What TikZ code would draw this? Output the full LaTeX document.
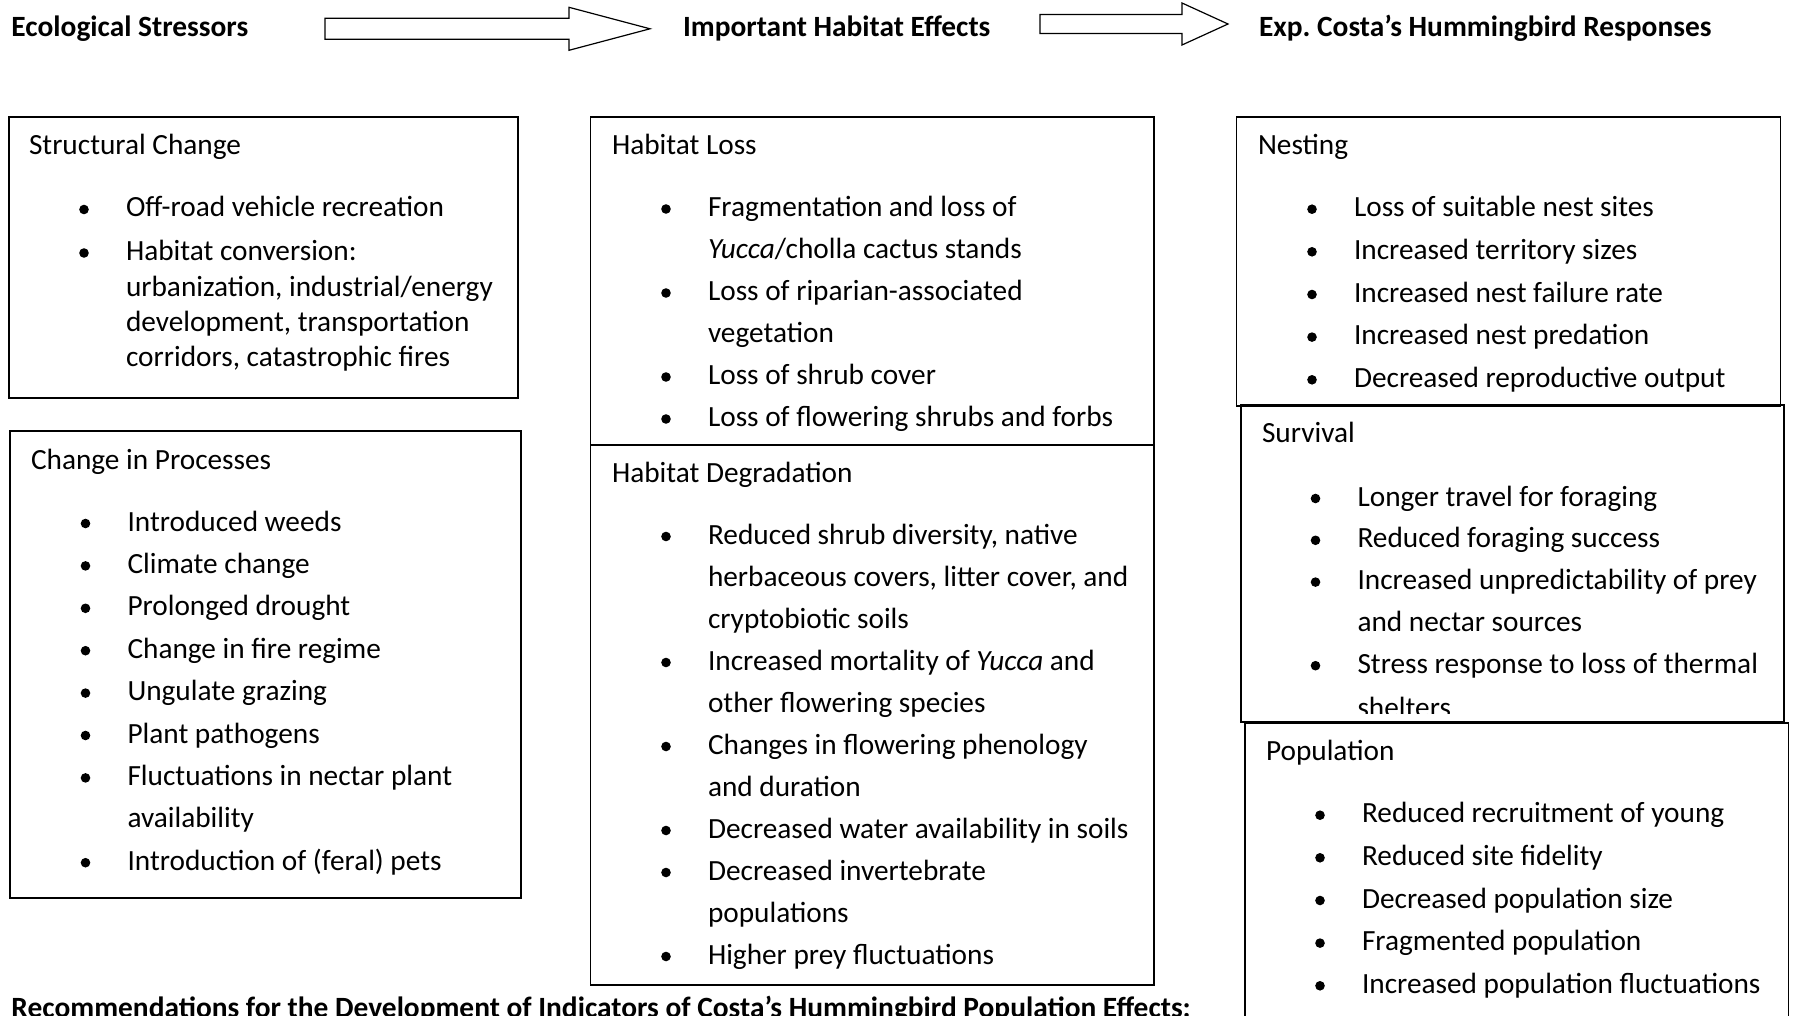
\documentclass[tikz,border=0pt]{standalone}
\usepackage{fontspec}
\setmainfont{Carlito}
\usepackage{tikz}
\usetikzlibrary{calc}
\frenchspacing

\tikzset{
  every node/.style={inner sep=0pt, outer sep=0pt},
  panel/.style={draw, line width=1.8pt},
  bigarrow/.style={draw, line width=1.2pt, line join=miter},
  head/.style={anchor=base west, font=\fontsize{29.4}{35}\selectfont\bfseries},
  ttl/.style={anchor=base west, font=\fontsize{29.3}{35}\selectfont},
  itm/.style={anchor=base west, font=\fontsize{29.3}{35}\selectfont},
}
% bullet in front of a line node
\newcommand{\bul}[1]{\fill ($(#1.base west)+(-42,-7.5)$) circle (4.8);}

\begin{document}
\begin{tikzpicture}[x=1pt,y=-1pt]
  \useasboundingbox (0,0) rectangle (1798,1016);

  % headings and arrows
  \node[head] (es) at (11.5,37) {Ecological Stressors};
  \node[head] (ihe) at (683,37) {Important Habitat Effects};
  \node[head] (ecr) at (1259,37) {Exp. Costa’s Hummingbird Responses};

  \draw[bigarrow] (325,18.3) -- (569,18.3) -- (569,7.3) -- (650,28.8)
    -- (569,50.3) -- (569,39.3) -- (325,39.3) -- cycle;
  \draw[bigarrow] (1040,14.5) -- (1182,14.5) -- (1182,3) -- (1228,24)
    -- (1182,45) -- (1182,33.5) -- (1040,33.5) -- cycle;

  % Structural Change
  \draw[panel] (9,117) rectangle (518,398);
  \node[ttl] (sct) at (29,155) {Structural Change};
  \node[itm] (sc1) at (126,217) {Off-road vehicle recreation}; \bul{sc1}
  \node[itm] (sc2) at (126,260.5) {Habitat conversion:}; \bul{sc2}
  \node[itm] (sc3) at (126,296) {urbanization, industrial/energy};
  \node[itm] (sc4) at (126,331) {development, transportation};
  \node[itm] (sc5) at (126,366.5) {corridors, catastrophic fires};

  % Change in Processes
  \draw[panel] (10.3,431) rectangle (521,898);
  \node[ttl] (cpt) at (31,469) {Change in Processes};
  \node[itm] (cp1) at (127.5,531) {Introduced weeds}; \bul{cp1}
  \node[itm] (cp2) at (127.5,573.4) {Climate change}; \bul{cp2}
  \node[itm] (cp3) at (127.5,615.8) {Prolonged drought}; \bul{cp3}
  \node[itm] (cp4) at (127.5,658.2) {Change in fire regime}; \bul{cp4}
  \node[itm] (cp5) at (127.5,700.6) {Ungulate grazing}; \bul{cp5}
  \node[itm] (cp6) at (127.5,743) {Plant pathogens}; \bul{cp6}
  \node[itm] (cp7) at (127.5,785.4) {Fluctuations in nectar plant}; \bul{cp7}
  \node[itm] (cp8) at (127.5,827.8) {availability};
  \node[itm] (cp9) at (127.5,870.2) {Introduction of (feral) pets}; \bul{cp9}

  % Habitat Loss
  \draw[panel] (590.5,117) rectangle (1154,445);
  \node[ttl] (hlt) at (612,155) {Habitat Loss};
  \node[itm] (hl1) at (708,216.5) {Fragmentation and loss of}; \bul{hl1}
  \node[itm] (hl2) at (708,258.5) {\textit{Yucca}/cholla cactus stands};
  \node[itm] (hl3) at (708,300.5) {Loss of riparian-associated}; \bul{hl3}
  \node[itm] (hl4) at (708,342.5) {vegetation};
  \node[itm] (hl5) at (708,384.5) {Loss of shrub cover}; \bul{hl5}
  \node[itm] (hl6) at (708,426.5) {Loss of flowering shrubs and forbs}; \bul{hl6}

  % Habitat Degradation
  \draw[panel] (590.5,445) rectangle (1154,985);
  \node[ttl] (hdt) at (612,482) {Habitat Degradation};
  \node[itm] (hd1) at (708,544) {Reduced shrub diversity, native}; \bul{hd1}
  \node[itm] (hd2) at (708,586) {herbaceous covers, litter cover, and};
  \node[itm] (hd3) at (708,628) {cryptobiotic soils};
  \node[itm] (hd4) at (708,670) {Increased mortality of \textit{Yucca} and}; \bul{hd4}
  \node[itm] (hd5) at (708,712) {other flowering species};
  \node[itm] (hd6) at (708,754) {Changes in flowering phenology}; \bul{hd6}
  \node[itm] (hd7) at (708,796) {and duration};
  \node[itm] (hd8) at (708,838) {Decreased water availability in soils}; \bul{hd8}
  \node[itm] (hd9) at (708,880) {Decreased invertebrate}; \bul{hd9}
  \node[itm] (hd10) at (708,922) {populations};
  \node[itm] (hd11) at (708,964) {Higher prey fluctuations}; \bul{hd11}

  % Nesting
  \draw[panel] (1236.5,117) rectangle (1780.5,406);
  \node[ttl] (nst) at (1258,155) {Nesting};
  \node[itm] (ns1) at (1354,216.7) {Loss of suitable nest sites}; \bul{ns1}
  \node[itm] (ns2) at (1354,259.3) {Increased territory sizes}; \bul{ns2}
  \node[itm] (ns3) at (1354,302) {Increased nest failure rate}; \bul{ns3}
  \node[itm] (ns4) at (1354,344.6) {Increased nest predation}; \bul{ns4}
  \node[itm] (ns5) at (1354,387.3) {Decreased reproductive output}; \bul{ns5}

  % Survival (last line cut by the frame)
  \begin{scope}
    \clip (1241,405) rectangle (1784,713);
    \node[ttl] (svt) at (1262,442.7) {Survival};
    \node[itm] (sv1) at (1357.5,506) {Longer travel for foraging}; \bul{sv1}
    \node[itm] (sv2) at (1357.5,547.8) {Reduced foraging success}; \bul{sv2}
    \node[itm] (sv3) at (1357.5,589.6) {Increased unpredictability of prey}; \bul{sv3}
    \node[itm] (sv4) at (1357.5,631.4) {and nectar sources};
    \node[itm] (sv5) at (1357.5,673.2) {Stress response to loss of thermal}; \bul{sv5}
    \node[itm] (sv6) at (1357.5,717) {shelters};
  \end{scope}
  \draw[panel] (1241,405) rectangle (1784,721.7);

  % Population
  \draw[panel] (1245,722.7) rectangle (1788.5,1030);
  \node[ttl] (ppt) at (1266,760.7) {Population};
  \node[itm] (pp1) at (1362,822.7) {Reduced recruitment of young}; \bul{pp1}
  \node[itm] (pp2) at (1362,865.3) {Reduced site fidelity}; \bul{pp2}
  \node[itm] (pp3) at (1362,908) {Decreased population size}; \bul{pp3}
  \node[itm] (pp4) at (1362,950.6) {Fragmented population}; \bul{pp4}
  \node[itm] (pp5) at (1362,993.3) {Increased population fluctuations}; \bul{pp5}

  \node[head] (rec) at (11.5,1017) {Recommendations for the Development of Indicators of Costa’s Hummingbird Population Effects:};
\end{tikzpicture}
\end{document}
